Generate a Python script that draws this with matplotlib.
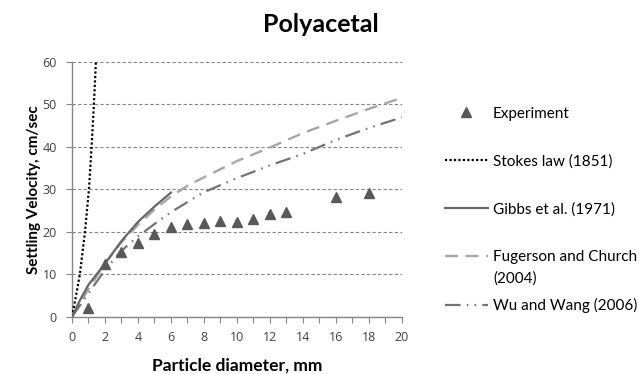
import numpy as np
import matplotlib
matplotlib.use("Agg")
import matplotlib.pyplot as plt
from matplotlib.ticker import MultipleLocator

# Experiment points
exp_d = [1, 2, 3, 4, 5, 6, 7, 8, 9, 10, 11, 12, 13, 16, 18]
exp_v = [2.1, 12.3, 15.3, 17.4, 19.4, 21.2, 21.8, 22.1, 22.4, 22.3, 22.9, 24.1, 24.6, 28.2, 29.0]

# Stokes law (1851)
stokes_d = [0, 0.25, 0.48, 0.79, 1.03, 1.19, 1.33, 1.45]
stokes_v = [0, 5, 10, 20, 30, 40, 50, 60]

# Gibbs et al. (1971)
gibbs_d = [0, 0.5, 1, 2, 3, 4, 5, 6]
gibbs_v = [0, 4, 7.5, 12.5, 17.8, 22.3, 25.9, 29.2]

# Fugerson and Church (2004)
fc_d = [0, 1, 2, 3, 4, 5, 6, 7, 8, 10, 12, 14, 16, 18, 20]
fc_v = [0, 6.5, 12.5, 17.5, 21.6, 25.2, 28.3, 30.8, 32.8, 36.6, 39.8, 43.2, 46.1, 48.9, 51.5]

# Wu and Wang (2006)
ww_d = [0, 1, 2, 3, 4, 5, 6, 8, 10, 12, 14, 16, 18, 20]
ww_v = [0, 5.5, 11, 15.5, 18.9, 21.8, 24.6, 29.3, 32.6, 35.6, 38.3, 41.6, 44.4, 46.9]

axis_gray = '#868686'

fig = plt.figure(figsize=(6.42, 3.74), dpi=100)
ax = fig.add_axes([0.1121, 0.1532, 0.514, 0.682])

ax.plot(exp_d, exp_v, linestyle='none', marker='^', markersize=7.5,
        color='#595959', label='Experiment', zorder=5)
ax.plot(stokes_d, stokes_v, color='black', linewidth=1.6,
        linestyle=(0, (1, 1)), label='Stokes law (1851)', zorder=4)
ax.plot(gibbs_d, gibbs_v, color='#666666', linewidth=1.6,
        label='Gibbs et al. (1971)', zorder=4)
ax.plot(fc_d, fc_v, color='#a6a6a6', linewidth=1.7,
        linestyle=(0, (5.5, 3.2)), label='Fugerson and Church', zorder=3)
ax.plot(ww_d, ww_v, color='#737373', linewidth=1.6,
        linestyle=(0, (7, 2.8, 0.7, 2.8, 0.7, 2.8)), label='Wu and Wang (2006)', zorder=3)

ax.set_xlim(0, 20)
ax.set_ylim(0, 60)
ax.xaxis.set_major_locator(MultipleLocator(2))
ax.xaxis.set_minor_locator(MultipleLocator(1))
ax.yaxis.set_major_locator(MultipleLocator(10))

ax.grid(axis='y', color=axis_gray, linestyle=(0, (3, 2)), linewidth=0.8)
ax.set_axisbelow(True)
for s in ['top', 'right']:
    ax.spines[s].set_visible(False)
for s in ['left', 'bottom']:
    ax.spines[s].set_color(axis_gray)
    ax.spines[s].set_linewidth(1.0)
ax.tick_params(axis='both', which='both', color=axis_gray, length=4, width=0.8,
               labelsize=9, labelcolor='#404040', direction='out')
ax.tick_params(axis='x', which='both', pad=6)
ax.tick_params(axis='y', pad=7)
for lab in ax.get_xticklabels() + ax.get_yticklabels():
    lab.set_family('Open Sans')

ax.set_xlabel('Particle diameter, mm', family='Lato', fontweight='bold',
              fontsize=12.5, labelpad=10)
ax.set_ylabel('Settling Velocity, cm/sec', family='Lato', fontweight='bold',
              fontsize=11, labelpad=1)
fig.text(0.5, 0.935, 'Polyacetal', family='Lato', fontweight='bold',
         fontsize=18, ha='center', va='center')

leg = ax.legend(loc='upper left', bbox_to_anchor=(0.681, 0.735),
                bbox_transform=fig.transFigure, frameon=False,
                prop={'family': 'Lato', 'size': 11}, handlelength=2.8,
                handletextpad=0.35, labelspacing=2.2, borderpad=0)

# second line of the Fugerson and Church label
fc_text = leg.get_texts()[3]
fig.canvas.draw()
bb = fc_text.get_window_extent()
fig.text(bb.x0 / fig.bbox.width, (bb.y0 - 21) / fig.bbox.height, '(2004)',
         family='Lato', fontsize=11, ha='left', va='bottom')

fig.savefig('out.png', dpi=100)
